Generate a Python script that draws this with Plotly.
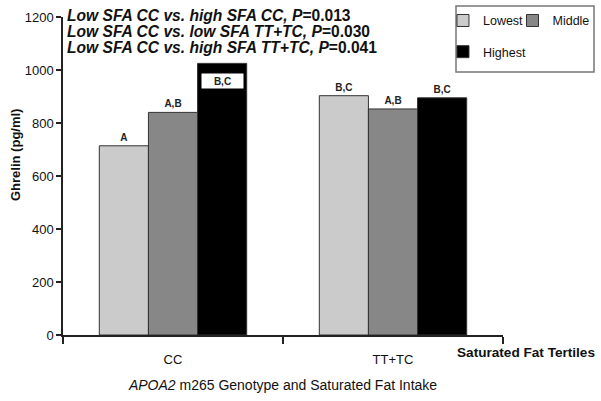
import plotly.graph_objects as go

genotypes = ["CC", "TT+TC"]
tertiles = ["Lowest", "Middle", "Highest"]
ghrelin = {
    "Lowest": [714, 903],
    "Middle": [840, 853],
    "Highest": [1025, 895],
}
letters = {
    "Lowest": ["A", "B,C"],
    "Middle": ["A,B", "A,B"],
    "Highest": ["", "B,C"],
}
colors = {"Lowest": "#cbcbcb", "Middle": "#878787", "Highest": "#000000"}
legend_of = {"Lowest": "legend", "Middle": "legend3", "Highest": "legend2"}
comparisons = [
    ("Low SFA CC vs. high SFA CC, ", "=0.013"),
    ("Low SFA CC vs. low SFA TT+TC, ", "=0.030"),
    ("Low SFA CC vs. high SFA TT+TC, ", "=0.041"),
]
y_ticks = [0, 200, 400, 600, 800, 1000, 1200]

FONT = "Liberation Sans, Arial, sans-serif"

fig = go.Figure()
for t in tertiles:
    fig.add_trace(go.Bar(
        name=t, x=genotypes, y=ghrelin[t],
        marker=dict(color=colors[t], line=dict(color="#333333", width=1)),
        text=letters[t], textposition="outside",
        textfont=dict(family=FONT, size=10, color="#222222", weight="bold"),
        cliponaxis=False,
        legend=legend_of[t],
    ))

annotations = []
line_py = [15, 32, 48]
for (a, b), py in zip(comparisons, line_py):
    annotations.append(dict(
        xref="paper", yref="paper", x=0.005, y=(335 - py) / 318,
        xanchor="left", yanchor="middle",
        text=f"<b><i>{a}P</i>{b}</b>", showarrow=False,
        font=dict(family=FONT, size=15.6, color="#111111"),
    ))
# label inside the tallest bar
annotations.append(dict(
    xref="x", yref="y", x=0.223, y=960, text="<b>B,C</b>", showarrow=False,
    bgcolor="white", width=39, height=12, borderpad=1,
    font=dict(family=FONT, size=10, color="#222222"),
))
annotations.append(dict(
    xref="paper", yref="paper", x=(15 - 63) / 440, y=(335 - 155) / 318,
    xanchor="center", yanchor="middle", textangle=-90,
    text="<b>Ghrelin (pg/ml)</b>", showarrow=False,
    font=dict(family=FONT, size=13, color="#111111"),
))
annotations.append(dict(
    xref="paper", yref="paper", x=(455 - 63) / 440, y=(335 - 352) / 318,
    xanchor="left", yanchor="middle",
    text="<b>Saturated Fat Tertiles</b>", showarrow=False,
    font=dict(family=FONT, size=13.6, color="#111111"),
))

legend_font = dict(family=FONT, size=12.5, color="#111111")
fig.update_layout(
    width=601, height=401,
    margin=dict(l=63, r=98, t=17, b=66, autoexpand=False),
    paper_bgcolor="white", plot_bgcolor="white",
    barmode="group", bargap=0.33, bargroupgap=0,
    font=dict(family=FONT, size=13, color="#222222"),
    showlegend=True,
    legend=dict(orientation="h", x=0.8636, y=1.035, xanchor="left", yanchor="top",
                font=legend_font, bgcolor="rgba(0,0,0,0)"),
    legend3=dict(orientation="h", x=1.0216, y=1.035, xanchor="left", yanchor="top",
                 font=legend_font, bgcolor="rgba(0,0,0,0)"),
    legend2=dict(orientation="h", x=0.8636, y=0.937, xanchor="left", yanchor="top",
                 font=legend_font, bgcolor="rgba(0,0,0,0)"),
    shapes=[dict(type="rect", xref="paper", yref="paper",
                 x0=(456 - 63) / 440, x1=(594 - 63) / 440,
                 y0=(335 - 72) / 318, y1=(335 - 6) / 318,
                 line=dict(color="#777777", width=1.5), fillcolor="rgba(0,0,0,0)")],
    annotations=annotations,
    xaxis=dict(
        type="category", showline=True, linecolor="#222222", linewidth=1.5,
        ticks="outside", tickson="boundaries", ticklen=7, tickcolor="#222222", tickwidth=1.5,
        showgrid=False, ticklabelstandoff=12,
        tickfont=dict(family=FONT, size=13, color="#111111"),
        title=dict(text="<i>APOA2</i> m265 Genotype and Saturated Fat Intake", standoff=14,
                   font=dict(family=FONT, size=14, color="#111111")),
    ),
    yaxis=dict(
        range=[0, 1200], tickvals=y_ticks, showline=True, linecolor="#222222", linewidth=1.5,
        ticks="outside", ticklen=5, tickcolor="#222222", tickwidth=1.5, showgrid=False,
        zeroline=False, tickfont=dict(family=FONT, size=13, color="#111111"),
    ),
)

fig.write_html("out.html", config={"displayModeBar": False},
               post_script="document.body.style.margin='0px';")
